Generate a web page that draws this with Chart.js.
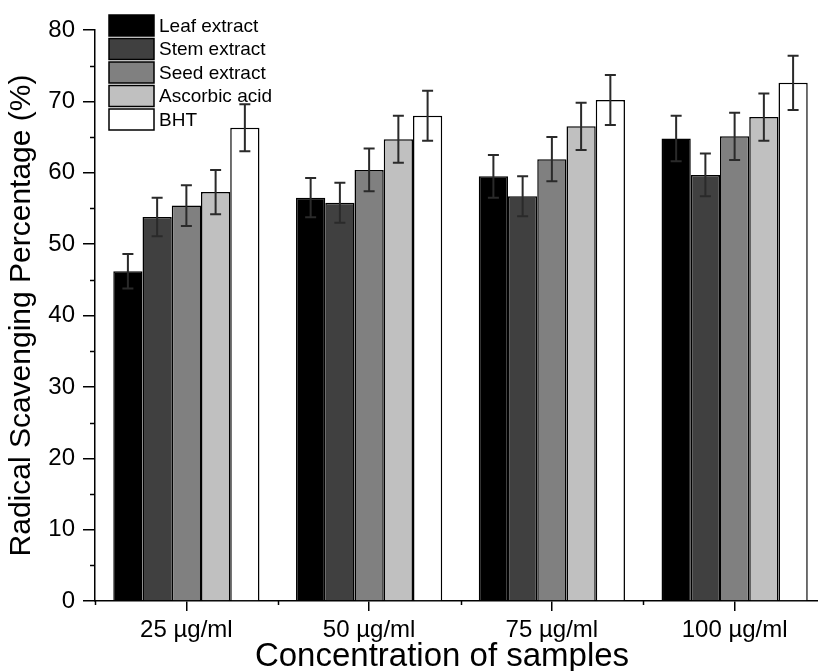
<!DOCTYPE html>
<html>
<head>
<meta charset="utf-8">
<script src="https://cdn.jsdelivr.net/npm/chart.js@4.4.1/dist/chart.umd.min.js"></script>
<style>
html,body{margin:0;padding:0;background:#fff;overflow:hidden;width:818px;height:671px;}
#wrap{width:840px;height:671px;}
</style>
</head>
<body>
<div id="wrap"><canvas id="c" width="840" height="671"></canvas></div>
<script>
const categories = ['25 µg/ml', '50 µg/ml', '75 µg/ml', '100 µg/ml'];
const seriesNames = ['Leaf extract', 'Stem extract', 'Seed extract', 'Ascorbic acid', 'BHT'];
const leafValues = [46.2, 56.5, 59.5, 64.8];
const leafErrors = [2.4, 2.75, 3.0, 3.2];
const stemValues = [53.8, 55.8, 56.7, 59.7];
const stemErrors = [2.7, 2.8, 2.8, 3.0];
const seedValues = [55.4, 60.4, 61.9, 65.1];
const seedErrors = [2.85, 3.0, 3.1, 3.3];
const ascorbicValues = [57.3, 64.7, 66.5, 67.8];
const ascorbicErrors = [3.1, 3.3, 3.3, 3.3];
const bhtValues = [66.3, 68.0, 70.2, 72.6];
const bhtErrors = [3.3, 3.5, 3.5, 3.8];
const yMajorTicks = [0, 10, 20, 30, 40, 50, 60, 70, 80];
const yMinorTicks = [5, 15, 25, 35, 45, 55, 65, 75];
const xTitle = 'Concentration of samples';
const yTitle = 'Radical Scavenging Percentage (%)';

const fills = ['#000000', '#404040', '#808080', '#c0c0c0', '#ffffff'];
const FONT = "'Liberation Sans', Arial, sans-serif";

const allValues = [leafValues, stemValues, seedValues, ascorbicValues, bhtValues];
const allErrors = [leafErrors, stemErrors, seedErrors, ascorbicErrors, bhtErrors];

const datasets = seriesNames.map((n, i) => ({
  label: n,
  data: allValues[i],
  errors: allErrors[i],
  backgroundColor: fills[i],
  borderColor: '#000',
  borderWidth: 1.5,
  borderSkipped: 'bottom',
  categoryPercentage: 0.8,
  barPercentage: 1.0
}));

const errorBars = {
  id: 'errorBars',
  afterDatasetsDraw(chart) {
    const ctx = chart.ctx;
    const y = chart.scales.y;
    ctx.save();
    ctx.strokeStyle = '#2a2a2a';
    ctx.lineWidth = 2;
    chart.data.datasets.forEach((ds, di) => {
      const meta = chart.getDatasetMeta(di);
      meta.data.forEach((bar, j) => {
        const v = ds.data[j], e = ds.errors[j];
        const yt = y.getPixelForValue(v + e), yb = y.getPixelForValue(v - e);
        const x = bar.x;
        ctx.beginPath();
        ctx.moveTo(x, yt); ctx.lineTo(x, yb);
        ctx.moveTo(x - 5.5, yt); ctx.lineTo(x + 5.5, yt);
        ctx.moveTo(x - 5.5, yb); ctx.lineTo(x + 5.5, yb);
        ctx.stroke();
      });
    });
    ctx.restore();
  }
};

const extras = {
  id: 'extras',
  afterDraw(chart) {
    const ctx = chart.ctx;
    const x = chart.scales.x, y = chart.scales.y;
    const a = chart.chartArea;
    ctx.save();
    ctx.strokeStyle = '#000';
    ctx.lineWidth = 1.5;
    // y minor ticks
    yMinorTicks.forEach(v => {
      const py = Math.round(y.getPixelForValue(v)) + 0.5;
      ctx.beginPath(); ctx.moveTo(a.left - 5, py); ctx.lineTo(a.left, py); ctx.stroke();
    });
    // x minor ticks at category boundaries
    const w = (a.right - a.left) / categories.length;
    for (let i = 0; i <= categories.length; i++) {
      const px = Math.round(a.left + i * w) + 0.5;
      ctx.beginPath(); ctx.moveTo(px, a.bottom); ctx.lineTo(px, a.bottom + 4); ctx.stroke();
    }
    // x axis title
    ctx.fillStyle = '#000';
    ctx.font = '33px ' + FONT;
    ctx.textAlign = 'center';
    ctx.textBaseline = 'alphabetic';
    ctx.fillText(xTitle, 442, 666);
    // legend
    const lx = 109, ly = 15, bw = 45, bh = 21, pitch = 23.5;
    ctx.font = '19px ' + FONT;
    ctx.textBaseline = 'middle';
    ctx.textAlign = 'left';
    chart.data.datasets.forEach((ds, i) => {
      const top = ly + i * pitch;
      ctx.fillStyle = ds.backgroundColor;
      ctx.fillRect(lx, top, bw, bh);
      ctx.lineWidth = 1.5;
      ctx.strokeStyle = '#000';
      ctx.strokeRect(lx, top, bw, bh);
      ctx.fillStyle = '#000';
      ctx.fillText(ds.label, lx + bw + 5, top + bh / 2 + 1);
    });
    ctx.restore();
  }
};

new Chart(document.getElementById('c'), {
  type: 'bar',
  data: { labels: categories, datasets },
  options: {
    responsive: false,
    animation: false,
    devicePixelRatio: 1,
    layout: { padding: { top: 30, right: 14, bottom: 0, left: 0 } },
    plugins: { legend: { display: false }, tooltip: { enabled: false } },
    scales: {
      x: {
        grid: { display: true, drawOnChartArea: false, offset: false, tickLength: 10, color: '#000', lineWidth: 1.5 },
        border: { display: true, color: '#000', width: 1.5 },
        ticks: { color: '#000', font: { family: FONT, size: 24 }, padding: 5, maxRotation: 0 },
        title: { display: false, text: xTitle },
        afterFit(s) { s.height = 70; }
      },
      y: {
        min: 0, max: 80,
        afterBuildTicks(s) { s.ticks = yMajorTicks.map(v => ({ value: v })); },
        grid: { display: true, drawOnChartArea: false, tickLength: 12, color: '#000', lineWidth: 1.5 },
        border: { display: true, color: '#000', width: 1.5 },
        ticks: { color: '#000', font: { family: FONT, size: 24 }, padding: 8 },
        title: { display: true, text: yTitle, color: '#000', font: { family: FONT, size: 30 }, padding: { top: 4, bottom: 0 } },
        afterFit(s) { s.width = 95; }
      }
    }
  },
  plugins: [errorBars, extras]
});
</script>
</body>
</html>
